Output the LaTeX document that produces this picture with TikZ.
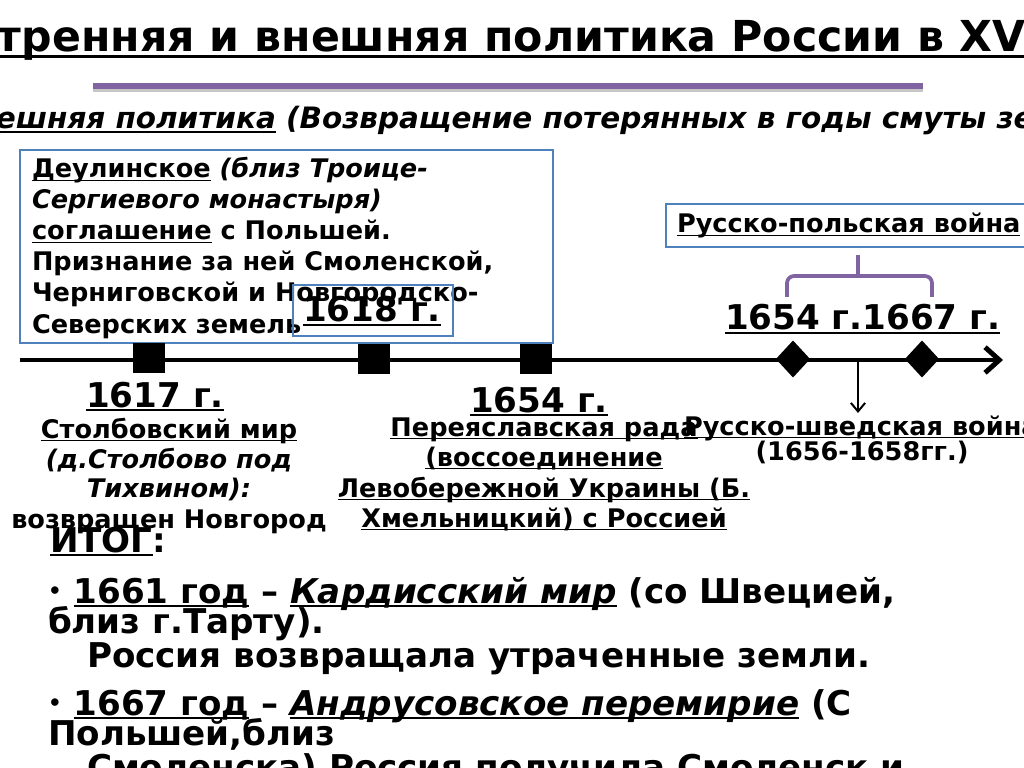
\documentclass[tikz,border=0pt]{standalone}
\usepackage{fontspec}
\setmainfont{DejaVu Sans}
\usetikzlibrary{arrows.meta,shapes.geometric}
\definecolor{boxblue}{HTML}{4F81BD}
\definecolor{barpurple}{HTML}{8064A2}
\newcommand\ulx[1]{\setbox0=\hbox{#1}\rlap{\rule[-0.13em]{\wd0}{0.07em}}\box0\relax}
\newcommand\bul{\raisebox{0.12em}{\fontsize{15}{15}\selectfont•}}
\begin{document}
\begin{tikzpicture}[x=0.703125pt,y=-0.703125pt,
  every node/.style={inner sep=0pt,outer sep=0pt},
  ttl/.style={anchor=base west,font=\fontsize{30}{30}\selectfont\bfseries},
  big/.style={font=\fontsize{24}{24}\selectfont\bfseries},
  mid/.style={font=\fontsize{18}{18}\selectfont\bfseries},
  frame/.style={draw=boxblue,line width=2pt},
  sqmark/.style={fill=black,minimum width=22.5pt,minimum height=21pt},
  dmark/.style={diamond,fill=black,minimum width=24pt,minimum height=26pt}]
\useasboundingbox (0,0) rectangle (1024,768);
\clip (0,0) rectangle (1024,768);
\fill[white] (0,0) rectangle (1024,768);
% heading
\node[ttl] (title) at (-3,52) {\ulx{тренняя и внешняя политика России в XV}};
\fill[gray!45] (93,86) rectangle (923,92);
\fill[barpurple] (93,83) rectangle (923,89);
\node[anchor=base west,font=\fontsize{20.7}{20.7}\selectfont\bfseries\itshape] (sub) at (-4,129) {\ulx{ешняя политика} (Возвращение потерянных в годы смуты зе};
% treaty box
\draw[frame,fill=white] (20,150) rectangle (553,343);
\node[mid,anchor=base west] (dl1) at (32,178) {\ulx{Деулинское} \textit{(близ Троице-}};
\node[mid,anchor=base west] (dl2) at (32,209) {\textit{Сергиевого монастыря)}};
\node[mid,anchor=base west] (dl3) at (32,240) {\ulx{соглашение} с Польшей.};
\node[mid,anchor=base west] (dl4) at (32,271) {Признание за ней Смоленской,};
\node[mid,anchor=base west] (dl5) at (32,302) {Черниговской и Новгородско-};
\node[mid,anchor=base west] (dl6) at (32,333) {Северских земель};
\draw[frame] (293,285) rectangle (453,336);
\node[big,anchor=base] (y1618) at (372,322) {\ulx{1618 г.}};
% war box and brace
\draw[frame,fill=white] (666,204) rectangle (1040,247);
\node[mid,anchor=base west] (rpw) at (677,233) {\ulx{Русско-польская война}};
\draw[barpurple,line width=2.6pt,rounded corners=5pt] (787,297) -- (787,276) -- (932,276) -- (932,297);
\draw[barpurple,line width=2.6pt] (858,277) -- (858,255);
\node[big,anchor=base west] (yrs) at (725,330) {\ulx{1654 г.1667 г.}};
% time line
\coordinate (tl0) at (20,360);
\coordinate (tl1) at (1003,360);
\draw[line width=3.5pt,-{Straight Barb[length=10pt,width=18pt]}] (tl0) -- (tl1);
\node[sqmark] (m1617) at (149,358) {};
\node[sqmark] (m1618) at (374,359) {};
\node[sqmark] (m1654) at (536,359) {};
\node[dmark] (d1654) at (793,359) {};
\node[dmark] (d1667) at (922,359) {};
\coordinate (sw0) at (858,360);
\coordinate (sw1) at (858,413);
\draw[line width=1.4pt,-{Straight Barb[length=6pt,width=10pt]}] (sw0) -- (sw1);
% events under the line
\node[big,anchor=base] (y1617) at (155,407) {\ulx{1617 г.}};
\node[mid,anchor=base] (st1) at (169,438) {\ulx{Столбовский мир}};
\node[mid,anchor=base] (st2) at (169,468) {\textit{(д.Столбово под}};
\node[mid,anchor=base] (st3) at (169,497) {\textit{Тихвином):}};
\node[mid,anchor=base] (st4) at (169,528) {возвращен Новгород};
\node[big,anchor=base] (y1654) at (539,412) {\ulx{1654 г.}};
\node[mid,anchor=base] (pr1) at (544,436) {\ulx{Переяславская рада}};
\node[mid,anchor=base] (pr2) at (544,466) {\ulx{(воссоединение}};
\node[mid,anchor=base] (pr3) at (544,497) {\ulx{Левобережной Украины (Б.}};
\node[mid,anchor=base] (pr4) at (544,527) {\ulx{Хмельницкий) с Россией}};
\node[mid,anchor=base west] (rsw) at (684,435) {\ulx{Русско-шведская война}};
\node[mid,anchor=base] (rswy) at (862,460) {(1656-1658гг.)};
% result
\node[big,anchor=base west] (itog) at (50,552) {\ulx{ИТОГ}:};
\node[big,anchor=base west] (r1) at (48,603) {\bul{} \ulx{1661 год} – \ulx{\textit{Кардисский мир}} (со Швецией,};
\node[big,anchor=base west] (r2) at (48,633) {близ г.Тарту).};
\node[big,anchor=base west] (r3) at (87,667) {Россия возвращала утраченные земли.};
\node[big,anchor=base west] (r4) at (48,715) {\bul{} \ulx{1667 год} – \ulx{\textit{Андрусовское перемирие}} (С};
\node[big,anchor=base west] (r5) at (48,745) {Польшей,близ};
\node[big,anchor=base west] (r6) at (87,779) {Смоленска) Россия получила Смоленск и};
\end{tikzpicture}
\end{document}
